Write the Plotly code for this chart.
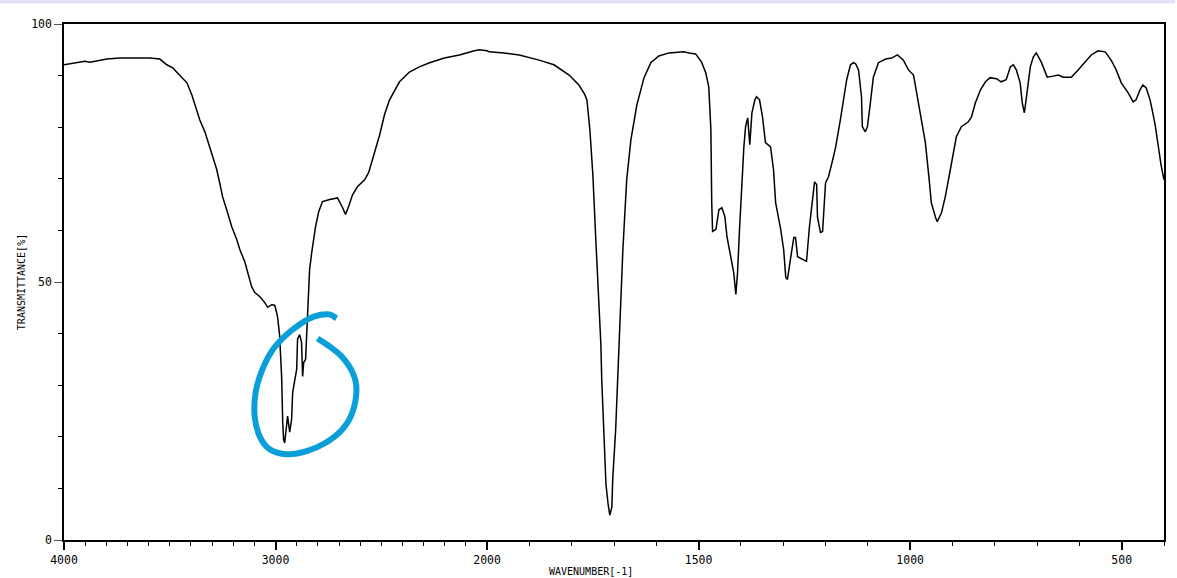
import numpy as np
import plotly.graph_objects as go

# IR spectrum (wavenumber in cm-1, transmittance in %)
wavenumber = [
    4000, 3972, 3924, 3901, 3877, 3844, 3797, 3736, 3641, 3594, 3547, 3514, 3486, 3443, 3419,
    3396, 3372, 3358, 3334, 3311, 3297, 3278, 3264, 3250, 3231, 3207, 3183, 3169, 3146, 3132,
    3113, 3099, 3075, 3051, 3037, 3018, 3004, 2995, 2990, 2981, 2971, 2966, 2962, 2957, 2952,
    2947, 2943, 2938, 2933, 2924, 2919, 2900, 2896, 2886, 2877, 2872, 2867, 2858, 2853, 2848,
    2844, 2839, 2829, 2820, 2811, 2796, 2778, 2744, 2707, 2683, 2669, 2655, 2636, 2612, 2579,
    2560, 2546, 2532, 2508, 2485, 2461, 2414, 2367, 2320, 2272, 2202, 2131, 2060, 2037, 2000,
    1995, 1960, 1924, 1877, 1842, 1806, 1783, 1769, 1764, 1757, 1750, 1743, 1736, 1731, 1729,
    1724, 1719, 1714, 1710, 1705, 1703, 1696, 1691, 1686, 1679, 1670, 1660, 1646, 1629, 1613,
    1594, 1570, 1535, 1523, 1507, 1493, 1483, 1476, 1471, 1469, 1467, 1459, 1452, 1445, 1438,
    1433, 1424, 1417, 1412, 1408, 1403, 1398, 1393, 1389, 1384, 1379, 1374, 1367, 1363, 1356,
    1349, 1342, 1330, 1323, 1318, 1306, 1299, 1294, 1290, 1283, 1275, 1271, 1266, 1254, 1245,
    1238, 1231, 1226, 1221, 1219, 1212, 1207, 1200, 1193, 1183, 1176, 1165, 1157, 1150, 1141,
    1134, 1129, 1122, 1115, 1113, 1106, 1101, 1094, 1087, 1075, 1058, 1044, 1030, 1016, 1004,
    992, 985, 973, 964, 955, 950, 940, 936, 926, 917, 905, 898, 891, 879, 863,
    855, 846, 834, 822, 811, 796, 785, 773, 763, 756, 749, 740, 735, 730, 726,
    716, 709, 702, 690, 681, 676, 662, 650, 638, 619, 603, 586, 572, 556, 539,
    525, 513, 501, 485, 473, 466, 457, 450, 442, 433, 428, 421, 414, 407, 400,
]
transmittance = [
    92.1, 92.3, 92.6, 92.8, 92.6, 92.8, 93.2, 93.4, 93.4, 93.4, 93.2, 92.1, 91.5, 89.7, 88.6,
    86.3, 83.4, 81.4, 79.1, 76.2, 74.3, 71.8, 69.2, 66.5, 64.0, 60.7, 58.2, 56.3, 54.0, 51.8,
    49.1, 48.0, 47.2, 46.0, 45.1, 45.6, 45.5, 44.1, 43.1, 39.8, 31.5, 22.8, 19.5, 18.8, 20.5,
    22.1, 24.0, 22.4, 20.9, 23.4, 28.6, 33.1, 38.9, 39.8, 38.3, 31.7, 34.4, 35.0, 39.5, 44.1,
    50.5, 52.4, 55.7, 58.8, 60.7, 63.6, 65.6, 66.0, 66.3, 64.4, 63.1, 64.6, 66.9, 68.5, 69.8,
    71.2, 73.1, 75.2, 78.5, 82.4, 85.3, 88.8, 90.7, 91.7, 92.5, 93.4, 94.0, 94.8, 95.0, 94.8,
    94.6, 94.4, 94.0, 93.0, 92.1, 90.1, 88.2, 86.3, 85.3, 79.5, 70.8, 58.2, 46.6, 37.9, 31.1,
    19.5, 10.8, 7.0, 4.8, 6.4, 11.8, 21.5, 31.1, 42.7, 56.3, 69.8, 77.6, 84.3, 89.6, 92.5,
    93.8, 94.4, 94.6, 94.4, 94.2, 92.6, 90.5, 87.8, 79.5, 65.4, 59.8, 60.2, 64.0, 64.4, 62.7,
    58.8, 54.9, 51.8, 47.6, 51.8, 60.7, 69.8, 76.2, 80.1, 81.8, 76.6, 82.8, 85.3, 85.9, 85.3,
    82.0, 77.0, 76.2, 71.8, 65.4, 60.2, 56.3, 50.9, 50.5, 54.4, 58.6, 58.6, 54.9, 54.4, 54.0,
    60.7, 66.0, 69.4, 68.9, 62.5, 59.6, 59.8, 69.2, 70.4, 73.7, 76.2, 81.4, 85.3, 89.2, 92.1,
    92.5, 92.3, 91.1, 85.9, 80.1, 79.1, 80.1, 84.7, 89.7, 92.5, 93.2, 93.4, 94.0, 93.0, 91.1,
    90.1, 86.7, 80.9, 77.0, 69.8, 65.4, 62.5, 61.7, 63.4, 66.5, 71.8, 75.0, 78.1, 80.1, 81.0,
    82.0, 84.7, 87.2, 88.8, 89.6, 89.4, 88.8, 89.2, 91.7, 92.1, 91.1, 88.6, 84.7, 82.8, 85.3,
    91.7, 93.6, 94.4, 92.6, 90.7, 89.7, 89.9, 90.1, 89.7, 89.7, 91.1, 92.6, 94.0, 94.8, 94.6,
    93.0, 91.1, 88.6, 86.7, 84.9, 85.3, 87.2, 88.2, 87.6, 85.3, 83.4, 80.5, 76.6, 72.7, 69.8,
]

major_ticks = [4000, 3500, 3000, 2500, 2000, 1500, 1000, 500]
major_labels = ["4000", "", "3000", "", "2000", "1500", "1000", "500"]
minor_ticks = list(range(3900, 399, -100))
y_ticks = [0, 50, 100]
y_labels = ["0", "50", "100"]
y_minor = list(range(10, 100, 10))


def pos(wn):
    """Spectrometer abscissa: 4000-2000 at half scale, 2000-400 at full scale."""
    wn = np.asarray(wn, dtype=float)
    return np.where(wn >= 2000, (4000 - wn) / 2.0, 1000 + (2000 - wn))


W, H = 1177, 578
ML, MR, MT, MB = 64, 11, 24, 37
PW, PH = W - ML - MR, H - MT - MB

fig = go.Figure()
fig.add_trace(go.Scatter(
    x=pos(wavenumber), y=transmittance, mode="lines",
    line=dict(color="black", width=1.5), hoverinfo="skip", showlegend=False,
))

font = dict(family="DejaVu Sans Mono", size=10, color="black")
tickfont = dict(family="DejaVu Sans Mono", size=11.5, color="black")

fig.update_xaxes(
    range=[0, 2600], showgrid=False, zeroline=False,
    showline=True, linecolor="black", linewidth=1.5, mirror=True,
    tickmode="array", tickvals=pos(major_ticks).tolist(), ticktext=major_labels,
    ticks="outside", ticklen=8, tickwidth=1.5, tickcolor="black",
    tickfont=tickfont,
    minor=dict(tickvals=pos(minor_ticks).tolist(), ticks="outside", ticklen=4,
               tickwidth=1.2, tickcolor="black", showgrid=False),
)
fig.update_yaxes(
    range=[0, 100], showgrid=False, zeroline=False,
    showline=True, linecolor="black", linewidth=1.5, mirror=True,
    tickmode="array", tickvals=y_ticks, ticktext=y_labels,
    ticks="outside", ticklen=8, tickwidth=1.2, tickcolor="#555555",
    tickfont=tickfont,
    minor=dict(tickvals=y_minor, ticks="outside", ticklen=4, tickwidth=1.2,
               tickcolor="black", showgrid=False),
    title=dict(text="TRANSMITTANCE[%]", font=font, standoff=4),
)

# x-axis title
fig.add_annotation(text="WAVENUMBER[-1]", xref="paper", yref="paper",
                   x=(592 - ML) / PW, y=-(573 - (MT + PH)) / PH,
                   showarrow=False, font=font, xanchor="center", yanchor="middle")

# light band along the top edge of the page
fig.add_shape(type="rect", xref="paper", yref="paper",
              x0=-ML / PW, x1=(W - ML) / PW,
              y0=(MT + PH - 3.5) / PH, y1=(MT + PH) / PH,
              line=dict(width=0), fillcolor="#e2e2f4", layer="below")

# hand-drawn blue loop around the C-H stretch region (page pixel coordinates)
loop_px = [(337, 319), (330, 315), (315, 317), (300, 325), (285, 337), (272, 352),
           (262, 372), (256, 393), (255, 417), (260, 437), (270, 450), (287, 455),
           (307, 452), (327, 443), (343, 430), (353, 413), (357, 390), (353, 373),
           (342, 357), (330, 347), (318, 339)]


def to_paper(p):
    return ((p[0] - ML) / PW, (MT + PH - p[1]) / PH)


pts = [to_paper(p) for p in loop_px]
path = "M {:.5f},{:.5f}".format(*pts[0])
for i in range(len(pts) - 1):
    p0 = pts[i - 1] if i > 0 else pts[i]
    p1, p2 = pts[i], pts[i + 1]
    p3 = pts[i + 2] if i + 2 < len(pts) else pts[i + 1]
    c1 = (p1[0] + (p2[0] - p0[0]) / 6, p1[1] + (p2[1] - p0[1]) / 6)
    c2 = (p2[0] - (p3[0] - p1[0]) / 6, p2[1] - (p3[1] - p1[1]) / 6)
    path += " C {:.5f},{:.5f} {:.5f},{:.5f} {:.5f},{:.5f}".format(*c1, *c2, *p2)
fig.add_shape(type="path", xref="paper", yref="paper", path=path,
              line=dict(color="#0a9fd9", width=6))

fig.update_layout(
    width=W, height=H,
    margin=dict(l=ML, r=MR, t=MT, b=MB),
    paper_bgcolor="white", plot_bgcolor="white",
    showlegend=False,
)

fig.write_html("out.html", config={"displayModeBar": False},
               post_script="document.body.style.margin='0';document.body.style.overflow='hidden';")
